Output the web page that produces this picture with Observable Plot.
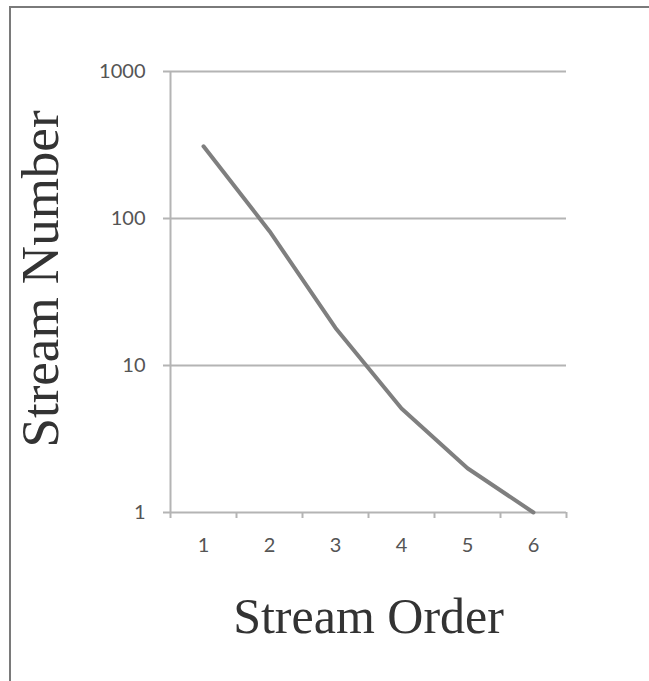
<!DOCTYPE html>
<html>
<head>
<meta charset="utf-8">
<script src="https://cdn.jsdelivr.net/npm/d3@7"></script>
<script src="https://cdn.jsdelivr.net/npm/@observablehq/plot@0.6"></script>
<style>
  html, body { margin: 0; padding: 0; background: #fff; }
  #wrap { position: relative; width: 649px; height: 681px; overflow: hidden; }
  #frame { position: absolute; left: 9px; top: 6px; width: 700px; height: 700px;
           border-left: 2px solid #7a7a7a; border-top: 2px solid #7a7a7a; box-sizing: border-box; }
  #chart { position: absolute; left: 0; top: 0; }
</style>
</head>
<body>
<div id="wrap"><div id="frame"></div><div id="chart"></div></div>
<script>
const orders = [1, 2, 3, 4, 5, 6];
const streamNumbers = [310, 82, 18, 5.1, 2.0, 1];
const yTicks = [1, 10, 100, 1000];
const xTitle = "Stream Order";
const yTitle = "Stream Number";

const data = orders.map((o, i) => ({order: o, count: streamNumbers[i]}));
const bandEdges = d3.range(0.5, 7, 1);

const chart = Plot.plot({
  width: 649,
  height: 681,
  marginLeft: 170,
  marginRight: 83,
  marginTop: 71,
  marginBottom: 169,
  style: {background: "transparent"},
  x: {type: "linear", domain: [0.5, 6.5]},
  y: {type: "log", domain: [1, 1000]},
  marks: [
    Plot.ruleY(yTicks, {x1: 0.5, x2: 6.5, stroke: "#b4b4b4", strokeWidth: 2, insetLeft: -7}),
    Plot.ruleX([0.5], {y1: 1, y2: 1000, stroke: "#b4b4b4", strokeWidth: 2}),
    Plot.axisY({ticks: yTicks, tickFormat: d => String(d), tickSize: 0, tickPadding: 25,
      fontFamily: "Lato, 'Open Sans', sans-serif", fontSize: 20, fill: "#555", label: null}),
    Plot.axisX({ticks: bandEdges, tickFormat: () => "", tickSize: 6, stroke: "#b4b4b4", strokeWidth: 2, label: null}),
    Plot.axisX({ticks: orders, tickFormat: d => String(d), tickSize: 0, tickPadding: 25,
      fontFamily: "Lato, 'Open Sans', sans-serif", fontSize: 20, fill: "#555", label: null}),
    Plot.line(data, {x: "order", y: "count", stroke: "#7f7f7f", strokeWidth: 4, strokeLinejoin: "round", strokeLinecap: "round"}),
    Plot.text([xTitle], {frameAnchor: "bottom", dy: 120, lineAnchor: "bottom", textAnchor: "middle",
      fontFamily: "'Liberation Serif', serif", fontSize: 50, fill: "#333"}),
    Plot.text([yTitle], {frameAnchor: "left", dx: -129, dy: -13, rotate: -90, lineAnchor: "middle", textAnchor: "middle",
      fontFamily: "'Liberation Serif', serif", fontSize: 53, fill: "#333"})
  ]
});
document.getElementById("chart").appendChild(chart);
</script>
</body>
</html>
